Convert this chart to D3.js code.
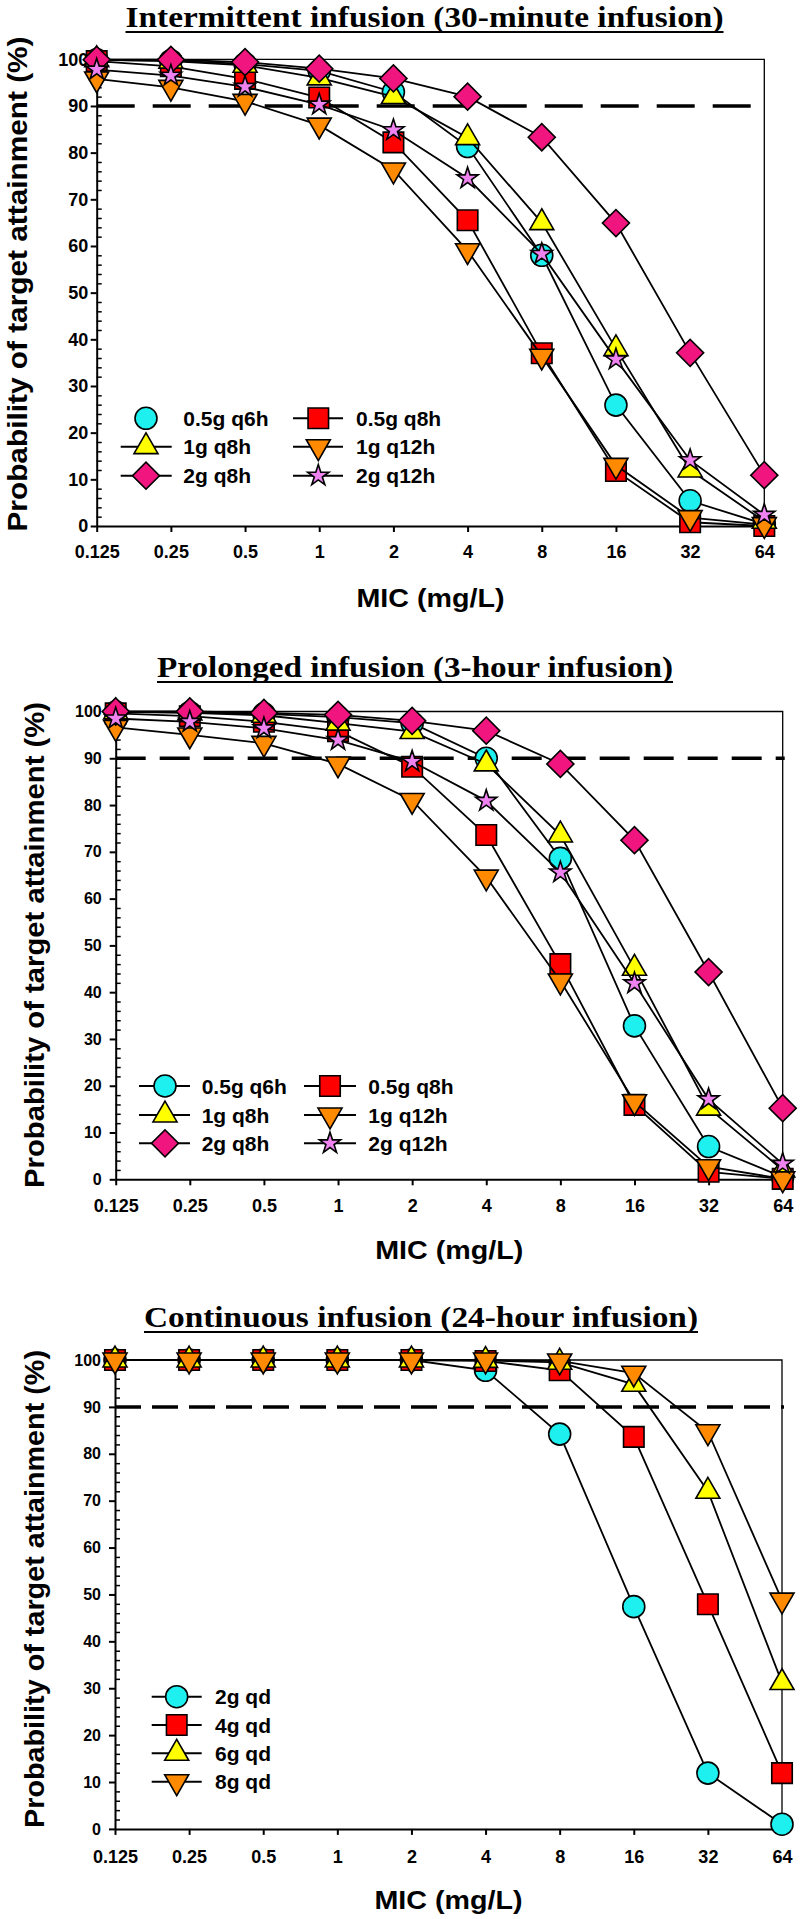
<!DOCTYPE html>
<html>
<head>
<meta charset="utf-8">
<script src="https://cdn.jsdelivr.net/npm/d3@7"></script>
<style>
  body { margin: 0; background: #fff; }
</style>
</head>
<body>
<script>
(function() {

  // x axis: MIC (mg/L), log2 spaced
  var mic = [0.125, 0.25, 0.5, 1, 2, 4, 8, 16, 32, 64];
  var micLabels = ['0.125', '0.25', '0.5', '1', '2', '4', '8', '16', '32', '64'];
  var yTicks = [0, 10, 20, 30, 40, 50, 60, 70, 80, 90, 100];
  var target = 90;

  var titles = [
    'Intermittent infusion (30-minute infusion)',
    'Prolonged infusion (3-hour infusion)',
    'Continuous infusion (24-hour infusion)'
  ];
  var regimens = ['0.5g q6h', '0.5g q8h', '1g q8h', '1g q12h', '2g q8h', '2g q12h'];
  var regimensCI = ['2g qd', '4g qd', '6g qd', '8g qd'];

  // intermittent infusion, probability of target attainment (%)
  var ii_05q6h = [99.9, 99.7, 99.0, 97.5, 93.0, 81.3, 58.0, 25.9, 5.4, 0.4];
  var ii_05q8h = [99.6, 98.5, 95.8, 91.8, 82.2, 65.5, 37.0, 11.8, 0.8, 0.0];
  var ii_1q8h  = [99.9, 99.6, 98.7, 96.0, 92.0, 83.2, 65.0, 38.0, 12.0, 1.0];
  var ii_1q12h = [95.8, 94.0, 91.0, 85.9, 76.3, 59.0, 36.4, 13.0, 1.8, 0.3];
  var ii_2q8h  = [99.9, 99.9, 99.4, 98.0, 95.9, 92.0, 83.3, 64.9, 37.1, 10.9];
  var ii_2q12h = [97.8, 96.5, 94.1, 90.3, 84.8, 74.5, 58.3, 35.7, 14.1, 2.4];

  // prolonged infusion
  var pi_05q6h = [99.9, 99.8, 99.5, 98.8, 97.5, 90.0, 68.6, 32.8, 7.0, 0.5];
  var pi_05q8h = [99.6, 99.0, 97.8, 95.8, 88.2, 73.6, 46.0, 15.9, 1.6, 0.1];
  var pi_1q8h  = [99.9, 99.7, 99.2, 97.5, 95.7, 88.8, 73.6, 45.1, 15.2, 2.0];
  var pi_1q12h = [96.6, 95.0, 93.2, 88.8, 81.0, 64.6, 42.4, 16.6, 2.7, 0.1];
  var pi_2q8h  = [100, 100, 99.7, 99.3, 98.0, 95.9, 88.8, 72.5, 44.3, 15.2];
  var pi_2q12h = [98.5, 97.8, 96.4, 93.9, 89.3, 80.9, 65.6, 41.9, 17.1, 3.3];

  // continuous infusion
  var ci_2qd = [100, 100, 100, 100, 100, 97.8, 84.2, 47.4, 11.9, 1.0];
  var ci_4qd = [100, 100, 100, 100, 100, 99.8, 97.8, 83.6, 47.9, 11.9];
  var ci_6qd = [100, 100, 100, 100, 100, 99.9, 99.5, 94.8, 72.0, 31.2];
  var ci_8qd = [100, 100, 100, 100, 100, 100, 99.8, 97.2, 84.7, 48.8];

  var looks = {
    circle:  {type: d3.symbolCircle,   size: 380, rot: 0,   fill: '#1EF0F0'},
    square:  {type: d3.symbolSquare,   size: 420, rot: 0,   fill: '#FF0000'},
    up:      {type: d3.symbolTriangle, size: 250, rot: 0,   fill: '#FFFF00'},
    down:    {type: d3.symbolTriangle, size: 250, rot: 180, fill: '#FF8A00'},
    diamond: {type: d3.symbolSquare,   size: 365, rot: 45,  fill: '#F0157F'},
    star:    {type: d3.symbolStar,     size: 140, rot: 0,   fill: '#EE82EE'}
  };
  var sixLooks = ['circle', 'square', 'up', 'down', 'diamond', 'star'];

  var sans = '"Liberation Sans", Arial, sans-serif',
      serif = '"Liberation Serif", "Times New Roman", serif';

  var panels = [
    {
      title: titles[0], names: regimens, looks: sixLooks,
      vals: [ii_05q6h, ii_05q8h, ii_1q8h, ii_1q12h, ii_2q8h, ii_2q12h],
      x0: 96.7, x1: 764.3, yTop: 59.3, yBot: 526,
      titleX: 424.5, titleY: 27, titleLen: 598,
      yTitleX: 27, yTitleY: 284, yTitleLen: 495,
      yFont: 18, yPad: 2.4, xFont: 18, xPad: 13,
      micY: 607, dash: '38,18',
      legend: {rows: [418.3, 446.7, 475.7],
               cols: [{m: 146, l0: 120.7, l1: 171.7, t: 183.3}, {m: 318.3, l0: 293, l1: 343, t: 356}],
               noLine: ['0.5g q6h']}
    },
    {
      title: titles[1], names: regimens, looks: sixLooks,
      vals: [pi_05q6h, pi_05q8h, pi_1q8h, pi_1q12h, pi_2q8h, pi_2q12h],
      x0: 115.7, x1: 782.7, yTop: 711.5, yBot: 1179.3,
      titleX: 415, titleY: 677, titleLen: 516,
      yTitleX: 44, yTitleY: 945, yTitleLen: 486,
      yFont: 16, yPad: 8, xFont: 18, xPad: 13.5,
      micY: 1259, dash: '30,14',
      legend: {rows: [1086, 1115, 1143.3],
               cols: [{m: 165, l0: 139, l1: 190, t: 201.7}, {m: 330, l0: 304, l1: 356, t: 368.3}],
               noLine: []}
    },
    {
      title: titles[2], names: regimensCI, looks: ['circle', 'square', 'up', 'down'],
      vals: [ci_2qd, ci_4qd, ci_6qd, ci_8qd],
      x0: 115, x1: 782, yTop: 1360, yBot: 1828.9,
      titleX: 421, titleY: 1327, titleLen: 554,
      yTitleX: 44, yTitleY: 1589, yTitleLen: 478,
      yFont: 16, yPad: 8, xFont: 18, xPad: 15.4,
      micY: 1909, dash: '26,11',
      legend: {rows: [1696.7, 1725, 1753.3, 1781.7],
               cols: [{m: 176.7, l0: 151.7, l1: 201.7, t: 215}],
               noLine: []}
    }
  ];

  var svg = d3.select('body')
    .append('svg')
    .attr('width', 800)
    .attr('height', 1919)
    .style('background', '#fff');

  // one symbol path (shape + rotation) at a position
  function marker(sel, look, cx, cy) {
    var lk = looks[look];
    return sel.append('path')
      .attr('d', d3.symbol(lk.type, lk.size)())
      .attr('transform', 'translate(' + cx + ',' + cy + ') rotate(' + lk.rot + ')')
      .attr('fill', lk.fill)
      .attr('stroke', '#000')
      .attr('stroke-width', 1.6)
      .attr('stroke-linejoin', 'miter');
  }

  var draw = function(p) {

    var x = d3.scaleLog().base(2)
      .domain([mic[0], mic[mic.length - 1]])
      .range([p.x0, p.x1]);

    var y = d3.scaleLinear()
      .domain([0, 100])
      .range([p.yBot, p.yTop]);

    var g = svg.append('g');

    // title, underlined
    g.append('text')
      .attr('x', p.titleX)
      .attr('y', p.titleY)
      .attr('text-anchor', 'middle')
      .attr('font-family', serif)
      .attr('font-weight', 'bold')
      .attr('font-size', 29)
      .attr('textLength', p.titleLen)
      .attr('lengthAdjust', 'spacingAndGlyphs')
      .text(p.title);

    g.append('line')
      .attr('x1', p.titleX - p.titleLen / 2)
      .attr('x2', p.titleX + p.titleLen / 2)
      .attr('y1', p.titleY + 5)
      .attr('y2', p.titleY + 5)
      .attr('stroke', '#000')
      .attr('stroke-width', 2);

    // thin frame on top and right
    g.append('path')
      .attr('d', 'M' + p.x0 + ',' + p.yTop + 'H' + p.x1 + 'V' + p.yBot)
      .attr('fill', 'none')
      .attr('stroke', '#000')
      .attr('stroke-width', 1.3);

    // minor y ticks point inward
    var minor = d3.range(0, 101, 2).filter(function(v) { return v % 10 !== 0; });
    g.append('g')
      .attr('transform', 'translate(' + p.x0 + ',0)')
      .call(d3.axisRight(y).tickValues(minor).tickSize(5).tickFormat(''))
      .call(function(s) {
        s.select('.domain').remove();
        s.selectAll('line').attr('stroke-width', 1.5);
      });

    // y axis
    g.append('g')
      .attr('transform', 'translate(' + p.x0 + ',0)')
      .call(d3.axisLeft(y).tickValues(yTicks).tickSize(6).tickSizeOuter(0).tickPadding(p.yPad))
      .call(function(s) {
        s.select('.domain').attr('stroke-width', 2);
        s.selectAll('line').attr('stroke-width', 2);
        s.selectAll('text')
          .attr('font-family', sans)
          .attr('font-weight', 'bold')
          .attr('font-size', p.yFont)
          .attr('fill', '#000');
      });

    // x axis
    g.append('g')
      .attr('transform', 'translate(0,' + p.yBot + ')')
      .call(d3.axisBottom(x).tickValues(mic)
        .tickFormat(function(d, i) { return micLabels[i]; })
        .tickSize(6).tickSizeOuter(0).tickPadding(p.xPad))
      .call(function(s) {
        s.select('.domain').attr('stroke-width', 2);
        s.selectAll('line').attr('stroke-width', 2);
        s.selectAll('text')
          .attr('font-family', sans)
          .attr('font-weight', 'bold')
          .attr('font-size', p.xFont)
          .attr('fill', '#000');
      });

    // 90% target line
    g.append('line')
      .attr('x1', p.x0)
      .attr('x2', p.x1 + 2)
      .attr('y1', y(target))
      .attr('y2', y(target))
      .attr('stroke', '#000')
      .attr('stroke-width', 3.5)
      .attr('stroke-dasharray', p.dash);

    // axis titles
    g.append('text')
      .attr('transform', 'translate(' + p.yTitleX + ',' + p.yTitleY + ') rotate(-90)')
      .attr('text-anchor', 'middle')
      .attr('font-family', sans)
      .attr('font-weight', 'bold')
      .attr('font-size', 28)
      .attr('textLength', p.yTitleLen)
      .attr('lengthAdjust', 'spacingAndGlyphs')
      .text('Probability of target attainment (%)');

    g.append('text')
      .attr('x', (p.x0 + p.x1) / 2)
      .attr('y', p.micY)
      .attr('text-anchor', 'middle')
      .attr('font-family', sans)
      .attr('font-weight', 'bold')
      .attr('font-size', 26)
      .attr('textLength', 148)
      .attr('lengthAdjust', 'spacingAndGlyphs')
      .text('MIC (mg/L)');

    // the regimens: line first, then its symbols
    var line = d3.line()
      .x(function(d) { return x(d.m); })
      .y(function(d) { return y(d.v); });

    p.vals.forEach(function(vals, k) {
      var pts = mic.map(function(m, i) { return {m: m, v: vals[i]}; });
      g.append('path')
        .datum(pts)
        .attr('d', line)
        .attr('fill', 'none')
        .attr('stroke', '#000')
        .attr('stroke-width', 1.8);
      pts.forEach(function(d) { marker(g, p.looks[k], x(d.m), y(d.v)); });
    });

    // legend
    var lg = p.legend, ncol = lg.cols.length;
    p.names.forEach(function(name, i) {
      var c = lg.cols[i % ncol], ry = lg.rows[Math.floor(i / ncol)];
      if (lg.noLine.indexOf(name) < 0) {
        g.append('line')
          .attr('x1', c.l0).attr('x2', c.l1)
          .attr('y1', ry).attr('y2', ry)
          .attr('stroke', '#000')
          .attr('stroke-width', 2);
      }
      marker(g, p.looks[i], c.m, ry);
      g.append('text')
        .attr('x', c.t)
        .attr('y', ry)
        .attr('dy', '0.36em')
        .attr('font-family', sans)
        .attr('font-weight', 'bold')
        .attr('font-size', 21)
        .text(name);
    });
  };

  panels.forEach(draw);

})();
</script>
</body>
</html>
